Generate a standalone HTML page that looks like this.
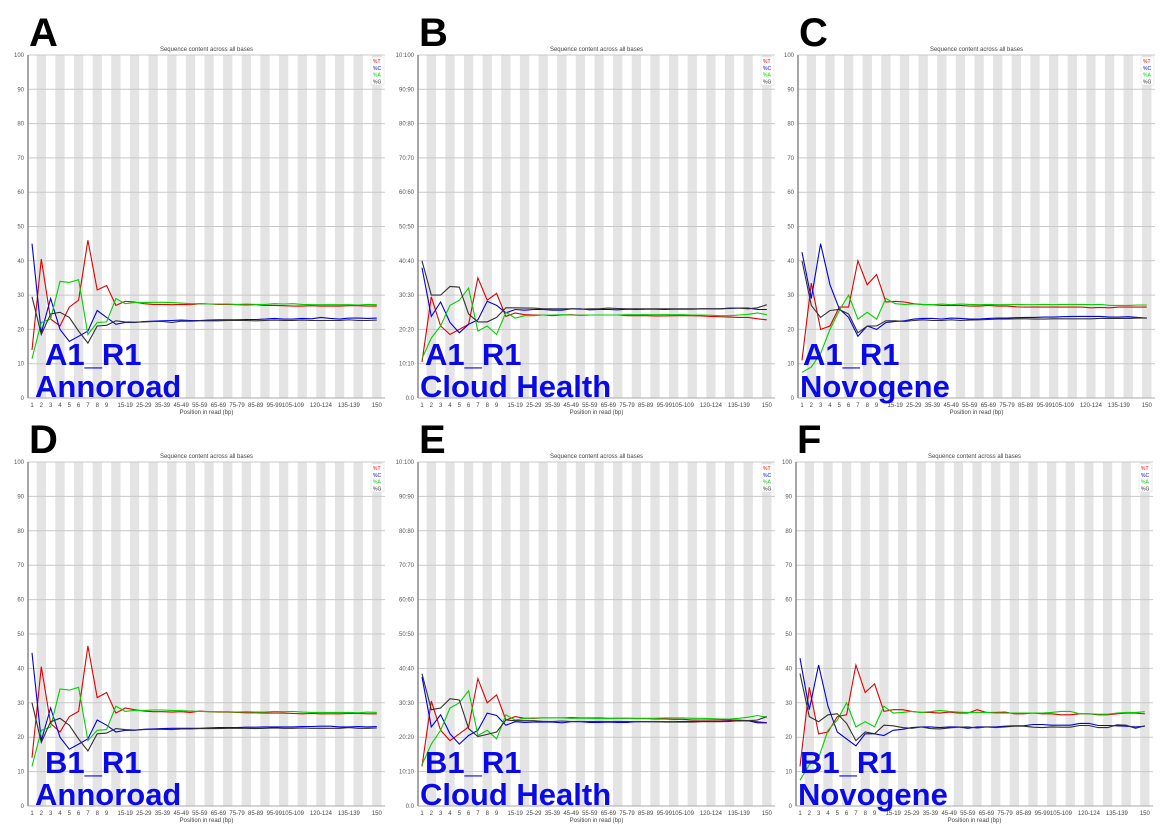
<!DOCTYPE html>
<html><head><meta charset="utf-8"><style>
html,body{margin:0;padding:0;background:#fff;}
svg{display:block;font-family:"Liberation Sans",sans-serif;}
</style></head><body>
<svg id="fig" width="1163" height="837" viewBox="0 0 1163 837" xmlns="http://www.w3.org/2000/svg"></svg>
<script>
const categories=["1","2","3","4","5","6","7","8","9","10-14","15-19","20-24","25-29","30-34","35-39","40-44","45-49","50-54","55-59","60-64","65-69","70-74","75-79","80-84","85-89","90-94","95-99","100-104","105-109","110-114","115-119","120-124","125-129","130-134","135-139","140-144","145-149","150"];
const shownLabels=[0,1,2,3,4,5,6,7,8,10,12,14,16,18,20,22,24,26,28,31,34,37];
const yTicks=[0,10,20,30,40,50,60,70,80,90,100];

const aT=[14,40.5,23,21,26.5,28.5,46,31.5,32.8,27,28.2,28,27.5,27.3,27.3,27.2,27.3,27.2,27.5,27.4,27.3,27.3,27.2,27.1,27.2,27,27,26.9,26.8,26.8,26.9,26.8,26.8,26.8,26.9,26.9,26.8,26.8];
const aC=[45,19,29,20,16.5,18,19.5,25.5,23.5,21.5,22,22,22.3,22.4,22.5,22.6,22.7,22.6,22.6,22.7,22.8,22.8,22.8,22.9,22.9,23,23.2,23,23,23.2,23.1,23.5,23.2,23,23.3,23.3,23.2,23.3];
const aA=[11.5,22,23,34,33.7,34.5,18.5,22,22.2,29,27.5,27.8,27.8,27.9,27.9,27.8,27.7,27.5,27.5,27.4,27.4,27.4,27.3,27.4,27.3,27.3,27.5,27.4,27.5,27.3,27.2,27.2,27.2,27.2,27.2,27.1,27.3,27.2];
const aG=[29.5,18.5,24.5,25,23.5,19.5,16,21,21.2,22.5,22.2,22.1,22.2,22.3,22.3,22,22.4,22.4,22.5,22.5,22.5,22.6,22.6,22.6,22.5,22.6,22.7,22.6,22.6,22.7,22.6,22.6,22.6,22.6,22.8,22.6,22.6,22.7];

const bT=[10.5,29.5,21,18.5,20,21.5,35,28.5,30.5,23.8,24.8,24.3,24.2,24.2,24,24.2,24.3,24.1,24.2,24.2,24.2,24.2,24,24,24,23.9,23.9,24,24,24,23.9,23.8,23.7,23.6,23.5,23.5,23.1,22.8];
const bC=[38,23.8,28,22,19,21.5,22.8,28.2,27,24.8,25.8,25.6,25.8,25.8,25.6,25.6,26,26,25.7,25.8,25.8,25.7,25.9,25.8,25.9,25.9,25.8,25.9,25.9,25.9,26,26,26,26.1,26.2,26.2,25.8,25.8];
const bA=[11.5,17.5,21,27,28.5,32,19.5,21,18.5,25,23.3,24,24,24.2,24.2,24.3,24.2,24.1,24.2,24.2,24.2,24.2,24.3,24.3,24.3,24.3,24.3,24.3,24.3,24.2,24.2,24.1,24,24,24.2,24.4,24.8,24.3];
const bG=[40,30,30,32.5,32.3,24.5,22.2,22.2,23.5,26.3,26.3,26.2,26.2,26,26,26,26,25.9,26,26,26.2,26.1,26,26,26,26,26,26,26,26,26,26,26,26.2,26.2,26,26.3,27.2];

const cT=[11,33.5,20,21,26.5,26.5,40,33,36,28,28.2,28,27.5,27.2,27.2,27,27,27,26.8,26.8,27,26.8,26.8,26.6,26.5,26.5,26.5,26.5,26.5,26.5,26.5,26.3,26.4,26.3,26.5,26.5,26.5,26.5];
const cC=[42.5,29,45,33,26,23.5,18,21,20,22,22.3,22.5,23,23.2,23.2,23,23.3,23.2,23,23,23.2,23.3,23.3,23.4,23.5,23.5,23.6,23.6,23.7,23.8,23.8,23.8,23.8,23.6,23.6,23.7,23.5,23.3];
const cA=[7.5,9,13,20,25.5,30,23,25,23,29,27.5,27.3,27.4,27.3,27.2,27.4,27.2,27.4,27.3,27.2,27.3,27.2,27.2,27.3,27.2,27.2,27.3,27.2,27.3,27.3,27.3,27.2,27.3,27,27,27,27.1,27.1];
const cG=[40,27,23.5,25.5,25.8,24.5,19,21,21,22.5,22.5,22.3,22.6,22.8,22.6,22.6,22.8,22.6,22.7,22.8,22.9,23,23,23.1,23.1,23,23,23.1,23.1,23.1,23.1,23.1,23.2,23.2,23.2,23.2,23.3,23.3];

const dT=[14,40.5,24,21.5,26,27.5,46.5,31.5,33,27,28.5,28,27.6,27.4,27.4,27.3,27.4,27.2,27.6,27.4,27.3,27.3,27.2,27.1,27.1,27,27,27,26.9,26.8,26.9,26.8,26.8,26.8,26.9,26.9,26.8,26.8];
const dC=[44.5,19,28.5,20,16.5,18,19.5,25,23.5,21.5,22,22,22.3,22.4,22.5,22.6,22.6,22.6,22.6,22.7,22.8,22.8,22.8,22.9,22.9,23,23,23,23,23.1,23.1,23.2,23.2,23,23,23.1,23,23.1];
const dA=[11.5,22,23,34,33.7,34.5,19,22,22.2,29,27.5,27.8,27.8,27.9,27.9,27.8,27.7,27.6,27.5,27.4,27.4,27.4,27.3,27.4,27.3,27.3,27.5,27.4,27.5,27.3,27.2,27.2,27.2,27.2,27.2,27.1,27.3,27.2];
const dG=[30,18.5,24.5,25.5,23.5,19.5,16,21,21.2,22.5,22.2,22.1,22.2,22.3,22.3,22.2,22.4,22.4,22.5,22.5,22.5,22.6,22.6,22.6,22.5,22.6,22.7,22.6,22.6,22.7,22.6,22.6,22.6,22.6,22.8,22.6,22.6,22.7];

const eT=[11.5,30.5,22,19,21,23,37,30,32.3,25,26,25.5,25.5,25.6,25.6,25.6,25.7,25.6,25.6,25.6,25.5,25.5,25.5,25.4,25.4,25.3,25.3,25.2,25.2,25,25,25,25,25,25,24.8,24.5,24.2];
const eC=[37.5,23,26.5,21,18,20.5,22,27,26.3,23.5,24.5,24.3,24.4,24.4,24.4,24.2,24.5,24.5,24.3,24.3,24.4,24.3,24.3,24.5,24.5,24.5,24.5,24.5,24.6,24.6,24.6,24.6,24.6,24.7,24.7,24.8,24.2,24.2];
const eA=[12,18,22,28.5,30,33.5,20.5,22,19.5,26.5,25,25.5,25.6,25.6,25.6,25.6,25.5,25.5,25.5,25.4,25.4,25.5,25.5,25.5,25.5,25.5,25.6,25.6,25.6,25.5,25.5,25.4,25.3,25.3,25.5,25.8,26.3,25.8];
const eG=[38.5,28,28.5,31.2,30.8,22.5,20.2,20.8,21.5,25,24.8,24.8,24.8,24.6,24.6,24.7,24.6,24.6,24.6,24.6,24.6,24.6,24.6,24.5,24.5,24.5,24.4,24.4,24.4,24.4,24.5,24.5,24.5,24.6,24.8,24.8,25,26];

const fT=[11.5,34.5,21,21.5,26,26.5,41,33,35.5,27.5,28,28,27.5,27.2,27.2,27,27.3,27,27,28,27.2,27.2,27.3,26.8,26.8,27,26.8,26.8,26.5,26.5,26.8,26.8,26.5,26.5,26.8,27,27,26.8];
const fC=[43,28,41,29,21.5,19.5,17.5,21,21,20.5,22,22.3,22.8,23,23,22.8,23,23,22.6,23,23,23,23.2,23.3,23.3,23.7,23.7,23.5,23.5,23.5,24,24,23.4,23.4,23.3,23.2,23,23.2];
const fA=[7.5,12,14,22,25,30,23,24.5,23,29,27,27.2,27.5,27.2,27.4,27.8,27.5,27.3,27.2,27.2,27.2,27,27,27,27,27,27,27.2,27.5,27.5,26.8,26.8,26.7,26.7,27,27.2,27.2,27.4];
const fG=[38.5,26,24.5,26.5,26.8,24,19,21.5,21,23.5,23.3,22.8,22.6,23,22.5,22.4,22.7,22.9,23,22.7,23,22.8,23,23.2,23.2,22.9,22.8,23,22.9,22.9,23.4,23.4,22.8,22.8,23.6,23.5,22.6,23.3];

const panels=[
 {id:"a",letter:"A",l1:"A1_R1",l2:"Annoroad",left:28,top:55,bottom:398,dual:false,s:[aT,aC,aA,aG],lx:45,lx2:35},
 {id:"b",letter:"B",l1:"A1_R1",l2:"Cloud Health",left:418,top:55,bottom:398,dual:true,s:[bT,bC,bA,bG],lx:425,lx2:420},
 {id:"c",letter:"C",l1:"A1_R1",l2:"Novogene",left:798,top:55,bottom:398,dual:false,s:[cT,cC,cA,cG],lx:803,lx2:800},
 {id:"d",letter:"D",l1:"B1_R1",l2:"Annoroad",left:28,top:462,bottom:806,dual:false,s:[dT,dC,dA,dG],lx:45,lx2:35},
 {id:"e",letter:"E",l1:"B1_R1",l2:"Cloud Health",left:418,top:462,bottom:806,dual:true,s:[eT,eC,eA,eG],lx:425,lx2:420},
 {id:"f",letter:"F",l1:"B1_R1",l2:"Novogene",left:796,top:462,bottom:806,dual:false,s:[fT,fC,fA,fG],lx:800,lx2:798}
];
const colors=["#e00000","#0000e0","#00d000","#303030"];
const names=["%T","%C","%A","%G"];
const NS="http://www.w3.org/2000/svg";
const fig=document.getElementById("fig");
function mk(tag,attrs,parent){const e=document.createElementNS(NS,tag);for(const k in attrs)e.setAttribute(k,attrs[k]);parent.appendChild(e);return e;}
const W=357, STEP=9.32;
panels.forEach(p=>{
  const g=mk("g",{},fig);
  
  
  const xs=i=>p.left+4+i*STEP;
  const ys=v=>p.bottom-(v/100)*(p.bottom-p.top);
  // background
  const bg=mk("rect",{x:p.left,y:p.top,width:W,height:p.bottom-p.top,fill:"#fff"},g);
  
  
  categories.forEach((c,i)=>{
    if(i%2===1){
      const r=mk("rect",{x:xs(i)-STEP/2,y:p.top,width:STEP,height:p.bottom-p.top,fill:"#e4e4e4"},g);
      
      
    }
  });
  yTicks.forEach(t=>{
    const ln=mk("line",{x1:p.left,x2:p.left+W,y1:ys(t),y2:ys(t),stroke:"#c8c8c8","stroke-width":1},g);
    
    
    const tx=mk("text",{x:p.left-4,y:ys(t)+2,"font-size":"6","text-anchor":"end",fill:"#555"},g);
    tx.textContent=p.dual?(t===100?"10:100":t+":"+t):String(t);
    
    
  });
  const ax=mk("line",{x1:p.left,x2:p.left,y1:p.top,y2:p.bottom,stroke:"#888","stroke-width":1.5},g);
  
  
  const bx=mk("line",{x1:p.left,x2:p.left+W,y1:p.bottom,y2:p.bottom,stroke:"#aaa","stroke-width":1},g);
  
  
  shownLabels.forEach(i=>{
    const tx=mk("text",{x:xs(i),y:p.bottom+9,"font-size":"6","text-anchor":"middle",fill:"#444"},g);
    tx.textContent=categories[i];
    
    
  });
  const xt=mk("text",{x:p.left+W/2,y:p.bottom+16,"font-size":"6","text-anchor":"middle",fill:"#444"},g);
  xt.textContent="Position in read (bp)";
  
  
  const tt=mk("text",{x:p.left+W/2,y:p.top-4,"font-size":"6","text-anchor":"middle",fill:"#444"},g);
  tt.textContent="Sequence content across all bases";
  
  
  p.s.forEach((arr,k)=>{
    const pts=arr.map((v,i)=>xs(i).toFixed(1)+","+ys(v).toFixed(1)).join(" ");
    const pl=mk("polyline",{points:pts,fill:"none",stroke:colors[k],"stroke-width":1.1},g);
    
    
  });
  const lg=mk("rect",{x:p.left+W-14,y:p.top+2,width:13,height:28,fill:"#fff",stroke:"#ddd","stroke-width":0.5},g);
  
  
  names.forEach((n,k)=>{
    const tx=mk("text",{x:p.left+W-12,y:p.top+8+k*6.8,"font-size":"5",fill:colors[k]},g);
    tx.textContent=n;
    
    
  });
  const L=mk("text",{x:p.left+1,y:p.top-9,"font-size":"40","font-weight":"bold",fill:"#000"},g);
  L.textContent=p.letter;
  
  
  const t1=mk("text",{x:p.lx,y:p.bottom-33,"font-size":"31","font-weight":"bold",fill:"#0a0ae6"},g);
  t1.textContent=p.l1;
  
  
  const t2=mk("text",{x:p.lx2,y:p.bottom-1,"font-size":"31","font-weight":"bold",fill:"#0a0ae6"},g);
  t2.textContent=p.l2;
  
  
});
</script>
</body></html>
